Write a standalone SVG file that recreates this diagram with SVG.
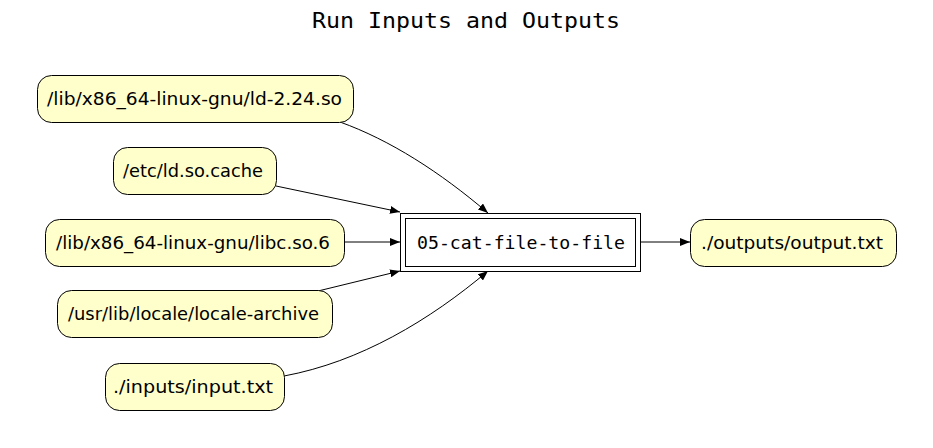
<svg xmlns="http://www.w3.org/2000/svg" width="933" height="448" viewBox="0 0 933 448">
<defs>
<marker id="ah" markerWidth="10" markerHeight="8" refX="10" refY="4" orient="auto" markerUnits="userSpaceOnUse">
<path d="M0,0 L10,4 L0,8 Z" fill="#000"/>
</marker>
<style>
.file rect{fill:#ffffcc;stroke:#000;stroke-width:1}
.file text{font-family:"DejaVu Sans",sans-serif;font-size:18.5px;fill:#000;text-anchor:middle;dominant-baseline:central}
.edge{fill:none;stroke:#000;stroke-width:1;marker-end:url(#ah)}
.title{font-family:"DejaVu Sans Mono",monospace;font-size:22px;text-anchor:middle}
.run rect{fill:#fff;stroke:#000;stroke-width:1}
.run text{font-family:"DejaVu Sans Mono",monospace;font-size:18px;text-anchor:middle;dominant-baseline:central}
</style>
</defs>
<rect width="933" height="448" fill="#fff"/>
<text class="title" x="466" y="28" textLength="308" lengthAdjust="spacingAndGlyphs">Run Inputs and Outputs</text>
<g id="edges">
<path class="edge" d="M340,122 C390,140 440,172 488,213"/>
<path class="edge" d="M276,186 L400,212"/>
<path class="edge" d="M344,242 L400,242"/>
<path class="edge" d="M318,291 L400,271"/>
<path class="edge" d="M284,376 C360,362 430,320 488,271"/>
<path class="edge" d="M640,242 L690,242"/>
</g>
<g id="n1" class="file"><rect x="37.5" y="75.5" width="316" height="47" rx="14"/><text x="194.5" y="98" textLength="295" lengthAdjust="spacingAndGlyphs">/lib/x86_64-linux-gnu/ld-2.24.so</text></g>
<g id="n2" class="file"><rect x="113.5" y="147.5" width="163" height="47" rx="14"/><text x="193" y="170" textLength="140" lengthAdjust="spacingAndGlyphs">/etc/ld.so.cache</text></g>
<g id="n3" class="file"><rect x="45.5" y="219.5" width="299" height="47" rx="14"/><text x="193" y="242" textLength="274" lengthAdjust="spacingAndGlyphs">/lib/x86_64-linux-gnu/libc.so.6</text></g>
<g id="n4" class="file"><rect x="57.5" y="290.5" width="275" height="47" rx="14"/><text x="193.5" y="313" textLength="251" lengthAdjust="spacingAndGlyphs">/usr/lib/locale/locale-archive</text></g>
<g id="n5" class="file"><rect x="105.5" y="363.5" width="179" height="47" rx="14"/><text x="193" y="386" textLength="160" lengthAdjust="spacingAndGlyphs">./inputs/input.txt</text></g>
<g id="run" class="run"><rect x="400.5" y="213.5" width="240" height="58"/><rect x="405.5" y="218.5" width="230" height="48"/><text x="521" y="242" textLength="208" lengthAdjust="spacingAndGlyphs">05-cat-file-to-file</text></g>
<g id="out" class="file"><rect x="690.5" y="219.5" width="206" height="47" rx="14"/><text x="792" y="242" textLength="182" lengthAdjust="spacingAndGlyphs">./outputs/output.txt</text></g>
</svg>
